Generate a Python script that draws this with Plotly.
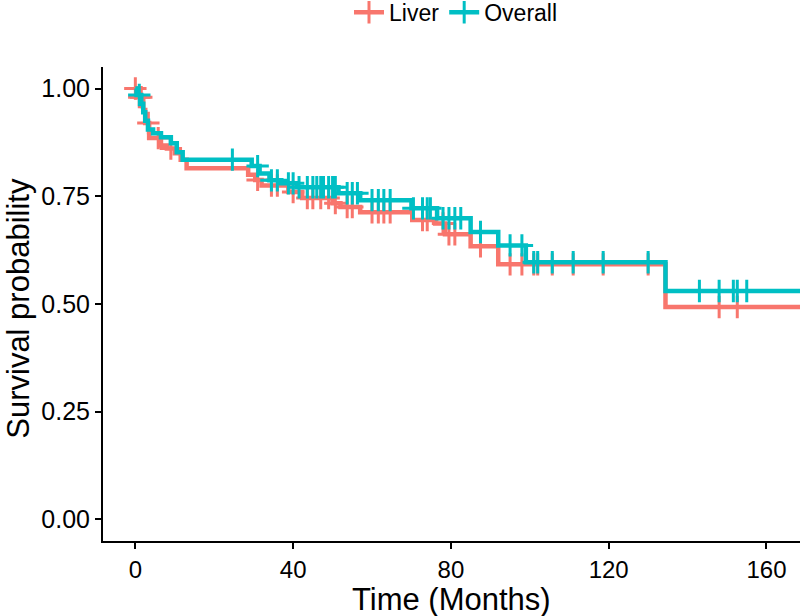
import numpy as np
import plotly.graph_objects as go

# ---- data ----
overall_times = [0, 0.3, 1.5, 2.0, 2.5, 3.2, 4.5, 6.5, 9.0, 10.5, 12.0, 29.5, 31.5, 34.0, 37.0, 41.0,
                 51.5, 57.0, 70.0, 76.5, 85.0, 92.0, 99.0, 134.4, 168.5]
overall_surv = [1.0, 0.985, 0.965, 0.945, 0.925, 0.905, 0.896, 0.887, 0.873, 0.852, 0.835, 0.820, 0.803,
                0.787, 0.780, 0.771, 0.757, 0.741, 0.722, 0.699, 0.667, 0.636, 0.597, 0.530, 0.530]
overall_censor = [1.0, 24.6, 31, 34.5, 36, 38.8, 40, 41.5, 43.6, 45, 46, 47, 47.7, 49, 50, 50.7, 53.7, 55,
                  56.3, 60, 61.6, 63, 64.6, 70.5, 72.8, 74, 74.8, 78, 79.5, 81, 82.5, 87.5, 95, 98,
                  101, 102, 105.7, 111, 118.6, 130, 143, 148, 151.6, 152.6, 155]

liver_times = [0, 0.3, 2.0, 2.5, 3.5, 6.5, 8.0, 10.0, 11.5, 13.0, 28.6, 30.4, 32.0, 38.8, 42.3, 50.0,
               52.0, 57.0, 70.2, 76.0, 78.5, 85.0, 92.0, 134.4, 168.5]
liver_surv = [1.0, 0.98, 0.95, 0.92, 0.885, 0.868, 0.861, 0.850, 0.835, 0.815, 0.800, 0.788, 0.775,
              0.760, 0.746, 0.734, 0.725, 0.713, 0.695, 0.687, 0.662, 0.634, 0.592, 0.493, 0.493]
liver_censor = [0.0, 1.0, 1.5, 3.3, 5.8, 9.0, 31, 34.5, 36, 40, 43.6, 45, 47, 49, 50.7, 53.7, 55,
                60, 61.6, 63, 64.6, 72.8, 74, 78, 79.5, 81, 87.5, 95, 98, 101, 102, 105.7, 111,
                118.6, 130, 148, 152.6]

x_ticks = [0, 40, 80, 120, 160]
y_ticks = [0.00, 0.25, 0.50, 0.75, 1.00]

RED = "#F8766D"
TEAL = "#00BFC4"


def surv_at(times, surv, t):
    idx = np.searchsorted(np.array(times), t, side="right") - 1
    return np.array(surv)[idx]


fig = go.Figure()

for name, times, surv, cens, col in [
    ("Liver", liver_times, liver_surv, liver_censor, RED),
    ("Overall", overall_times, overall_surv, overall_censor, TEAL),
]:
    fig.add_trace(go.Scatter(x=times, y=surv, mode="lines", line=dict(color=col, width=4.5, shape="hv"),
                             showlegend=False, hoverinfo="skip"))
    fig.add_trace(go.Scatter(x=cens, y=surv_at(times, surv, cens), mode="markers",
                             marker=dict(symbol="cross-thin", size=16, line=dict(color=col, width=3)),
                             showlegend=False, hoverinfo="skip"))
    fig.add_trace(go.Scatter(x=[None], y=[None], mode="lines+markers", name=name,
                             line=dict(color=col, width=4.5),
                             marker=dict(symbol="cross-thin", size=16, line=dict(color=col, width=3))))

fig.update_layout(
    width=800, height=616,
    margin=dict(l=103, r=0, t=67, b=75, autoexpand=False),
    paper_bgcolor="white", plot_bgcolor="white",
    font=dict(family="Liberation Sans, Arial, sans-serif", color="black"),
    legend=dict(orientation="h", x=0.57, xanchor="center", xref="container",
                y=0.98, yanchor="middle", yref="container",
                font=dict(size=23), itemwidth=30, tracegroupgap=0),
    xaxis=dict(range=[-8.2, 168.5], tickvals=x_ticks, ticks="outside", ticklen=6, tickwidth=2,
               tickcolor="black", showline=True, linecolor="black", linewidth=2, showgrid=False,
               zeroline=False, tickfont=dict(size=24, color="black"), automargin=False),
    yaxis=dict(range=[-0.05, 1.05], tickvals=y_ticks, tickformat=".2f", ticks="outside", ticklen=6,
               tickwidth=2, tickcolor="black", showline=True, linecolor="black", linewidth=2,
               showgrid=False, zeroline=False, tickfont=dict(size=25, color="black"), automargin=False),
    annotations=[
        dict(text="Time (Months)", xref="paper", yref="paper", x=0.5, y=-0.124, yanchor="middle",
             showarrow=False, font=dict(size=31)),
        dict(text="Survival probability", xref="paper", yref="paper", x=-0.1205, y=0.49,
             textangle=-90, xanchor="center", yanchor="middle", showarrow=False, font=dict(size=31)),
    ],
)

fig.write_html("out.html", config={"displayModeBar": False},
               post_script="document.body.style.margin='0';")
